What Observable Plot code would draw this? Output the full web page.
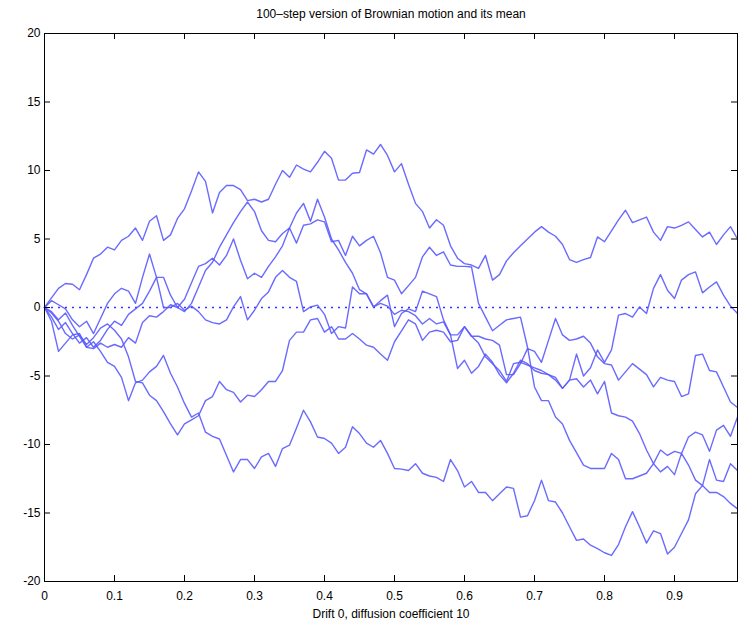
<!DOCTYPE html>
<html><head><meta charset="utf-8">
<script src="https://cdn.jsdelivr.net/npm/d3@7"></script>
<script src="https://cdn.jsdelivr.net/npm/@observablehq/plot@0.6"></script>
<style>html,body{margin:0;padding:0;background:#fff;} #chart svg{display:block;}</style>
</head><body><div id="chart"></div>
<script>
const title = "100\u2013step version of Brownian motion and its mean";
const caption = "Drift 0, diffusion coefficient 10";
const xTicks = [0, 0.1, 0.2, 0.3, 0.4, 0.5, 0.6, 0.7, 0.8, 0.9];
const xTickLabels = ["0", "0.1", "0.2", "0.3", "0.4", "0.5", "0.6", "0.7", "0.8", "0.9"];
const yTicks = [-20, -15, -10, -5, 0, 5, 10, 15, 20];
const yTickLabels = ["-20", "-15", "-10", "-5", "0", "5", "10", "15", "20"];
const stepSize = 0.01;
const meanValue = [0];

const path1 = [0,0.7,1.4,1.75,1.7,1.3,2.4,3.6,3.9,4.4, 4.2,4.9,5.2,5.8,4.9,6.3,6.7,4.9,5.3,6.5,
  7.2,8.5,9.9,9.2,6.9,8.4,8.9,8.9,8.6,7.8, 7.9,7.7,7.9,9.0,10.0,9.5,10.4,10.1,9.9,10.6,
  11.4,10.9,9.3,9.3,9.8,9.85,11.5,11.2,11.9,11.1, 9.9,10.5,9.0,7.6,7.0,5.8,6.4,6.0,4.5,3.6,
  3.2,3.1,2.85,3.8,2.0,2.4,3.4,4.0,4.5,5.0, 5.5,5.9,5.5,5.2,4.6,3.5,3.3,3.5,3.65,5.15,
  4.8,5.6,6.4,7.1,6.2,6.4,6.6,5.5,4.9,5.9, 5.8,6.0,6.25,5.7,5.15,5.5,4.6,5.3,5.9,5.0];
const path2 = [0,0.5,0.2,-0.1,-0.9,-1.4,-1.0,-1.9,-0.8,0.3, 1.0,1.4,1.2,0.3,2.2,3.9,2.2,0.0,0.0,0.3,
  -0.2,0.1,-0.3,-0.9,-1.1,-1.2,-0.9,0.04,0.8,-0.9, -0.2,0.65,1.14,2.2,2.7,2.2,1.9,-0.3,0.04,0.17,
  -0.5,-1.9,-1.4,-1.5,1.5,1.0,1.0,0.04,0.3,0.1, -0.5,-0.2,-0.3,-0.6,-1.2,-0.8,-1.2,-1.05,-2.0,-4.45,
  -3.85,-4.8,-4.3,-3.4,-4.0,-4.9,-5.5,-4.8,-3.85,-4.1, -4.6,-4.8,-4.9,-5.3,-5.9,-5.3,-3.4,-5.0,-4.4,-3.1,
  -4.0,-3.1,-0.56,-0.44,-0.7,0.04,-0.44,1.4,2.4,1.26, 0.66,2.0,2.4,2.6,1.07,1.5,1.87,0.9,0.1,-0.44];
const path3 = [0,-0.7,-1.6,-1.1,-1.9,-2.6,-2.2,-2.9,-2.4,-1.6, -1.0,-1.3,-0.5,-0.1,0.3,1.2,2.2,2.2,0.9,0.0,
  0.6,1.8,3.0,3.2,3.6,3.1,3.8,5.0,3.45,2.1, 2.5,2.2,3.0,3.7,4.5,5.8,6.9,7.6,6.3,7.9,
  6.6,5.0,4.2,3.3,2.5,1.3,1.0,0.04,0.5,0.9, -1.4,-0.44,-0.1,-0.3,1.2,1.0,0.8,-0.9,-2.0,-2.0,
  -1.4,-2.1,-2.1,-2.3,-2.4,-2.75,-4.9,-4.9,-4.1,-3.0, -3.2,-4.0,-2.4,-0.8,-2.0,-2.4,-2.3,-2.1,-2.6,-3.6,
  -4.1,-4.2,-5.3,-4.7,-4.1,-4.5,-4.9,-5.8,-5.1,-5.3, -5.4,-6.5,-6.3,-3.5,-3.4,-4.6,-4.7,-5.8,-6.9,-7.3];
const path4 = [0,-0.3,-0.9,-0.4,-1.3,-2.1,-2.9,-3.0,-2.6,-2.9, -2.7,-2.9,-2.2,-2.6,-1.1,-0.6,-0.7,-0.3,0.2,0.0,
  -0.3,0.3,1.5,2.7,3.3,4.4,5.3,6.2,7.0,7.7, 7.0,5.6,4.9,4.8,5.4,5.8,4.7,6.0,6.1,6.4,
  6.25,4.8,4.9,3.8,5.2,4.5,4.9,5.2,4.0,2.2, 2.0,1.0,1.6,2.2,3.7,4.4,3.8,4.06,3.1,3.0,
  3.0,2.96,0.3,-0.7,-1.7,-1.3,-0.9,-0.8,-0.7,-2.9, -5.8,-6.8,-6.8,-8.0,-8.5,-9.7,-10.6,-11.5,-11.75,-11.75,
  -11.75,-10.65,-11.1,-12.5,-12.5,-12.3,-12.1,-11.4,-10.4,-10.8, -10.5,-10.65,-9.45,-9.1,-9.3,-10.5,-8.95,-8.6,-9.4,-8.0];
const path5 = [0,-1.0,-3.2,-2.6,-2.0,-1.9,-2.9,-2.5,-3.2,-4.0, -4.3,-5.1,-6.8,-5.5,-5.3,-4.7,-4.3,-3.5,-4.8,-5.8,
  -7.0,-8.0,-7.7,-9.1,-9.4,-9.6,-10.8,-12.0,-11.1,-11.1, -11.75,-10.9,-10.65,-11.6,-10.3,-10.05,-8.8,-7.5,-8.35,-9.45,
  -9.56,-9.9,-10.65,-10.2,-8.7,-9.2,-9.9,-10.2,-9.7,-10.65, -11.75,-11.8,-11.9,-11.4,-12.1,-12.3,-12.4,-12.7,-11.1,-11.9,
  -13.1,-12.7,-13.5,-13.5,-14.1,-13.6,-13.1,-13.2,-15.3,-15.2, -14.1,-12.6,-14.1,-14.2,-15.0,-16.0,-17.0,-16.9,-17.35,-17.6,
  -17.9,-18.1,-17.3,-16.0,-14.9,-16.0,-17.2,-16.3,-16.5,-18.0, -17.5,-16.5,-15.5,-13.6,-13.0,-11.1,-12.6,-12.7,-11.4,-11.9];
const path6 = [0,-0.4,-1.0,-1.9,-2.3,-2.0,-2.7,-2.2,-1.5,-1.2, -1.66,-2.3,-3.6,-5.4,-5.5,-6.4,-6.8,-7.6,-8.5,-9.3,
  -8.5,-8.2,-7.9,-6.8,-6.5,-5.4,-6.0,-6.2,-6.9,-6.4, -6.5,-6.0,-5.4,-5.4,-4.6,-2.4,-1.8,-1.8,-0.9,-0.8,
  -1.8,-1.4,-2.3,-2.3,-1.9,-2.3,-2.75,-2.9,-3.4,-3.85, -2.5,-1.7,-0.9,-1.2,-2.4,-1.8,-1.66,-1.8,-2.5,-2.4,
  -1.4,-2.1,-2.6,-3.6,-4.1,-4.6,-5.4,-4.1,-4.0,-4.2, -4.4,-4.6,-4.9,-5.1,-5.9,-5.3,-5.2,-5.8,-5.3,-6.3,
  -5.4,-7.7,-7.9,-8.0,-8.3,-9.2,-10.4,-11.4,-12.0,-11.6, -12.2,-10.65,-11.5,-12.6,-13.0,-13.5,-13.5,-13.8,-14.3,-14.7];

const paths = [path1, path2, path3, path4, path5, path6];
const rows = paths.flatMap((vals, k) => vals.map((v, i) => ({path: k, t: i * stepSize, v})));

const W = 738, H = 624, mt = 33, mb = 43, ml = 44, mr = 1;
const innerH = H - mt - mb, innerW = W - ml - mr, tickLen = 6;

const chart = Plot.plot({
  width: W, height: H,
  marginTop: mt, marginBottom: mb, marginLeft: ml, marginRight: mr,
  x: {domain: [0, 0.99]},
  y: {domain: [-20, 20]},
  style: {fontFamily: "'Liberation Sans', Arial, Helvetica, sans-serif", fontSize: "12px", color: "#000", background: "#fff"},
  marks: [
    Plot.ruleY(meanValue, {stroke: "#3535ff", strokeDasharray: "2,5", strokeWidth: 1.3}),
    Plot.line(rows, {x: "t", y: "v", z: "path", stroke: "#5a5aff", strokeWidth: 1.4, strokeOpacity: 0.9}),
    Plot.frame({stroke: "#000", strokeWidth: 1}),
    Plot.tickX(xTicks, {x: d => d, insetTop: innerH - tickLen, stroke: "#000"}),
    Plot.tickX(xTicks, {x: d => d, insetBottom: innerH - tickLen, stroke: "#000"}),
    Plot.tickY(yTicks, {y: d => d, insetRight: innerW - tickLen, stroke: "#000"}),
    Plot.tickY(yTicks, {y: d => d, insetLeft: innerW - tickLen, stroke: "#000"}),
    Plot.axisX(xTicks, {tickSize: 0, tickPadding: 10, tickFormat: d => xTickLabels[xTicks.indexOf(d)], label: null}),
    Plot.axisY(yTicks, {tickSize: 0, tickPadding: 4, tickFormat: d => yTickLabels[yTicks.indexOf(d)], label: null}),
    Plot.text([title], {frameAnchor: "top", lineAnchor: "middle", dy: -19, fontSize: 12}),
    Plot.text([caption], {frameAnchor: "bottom", lineAnchor: "middle", dy: 33, fontSize: 12})
  ]
});
document.getElementById("chart").appendChild(chart);
</script>
</body></html>
